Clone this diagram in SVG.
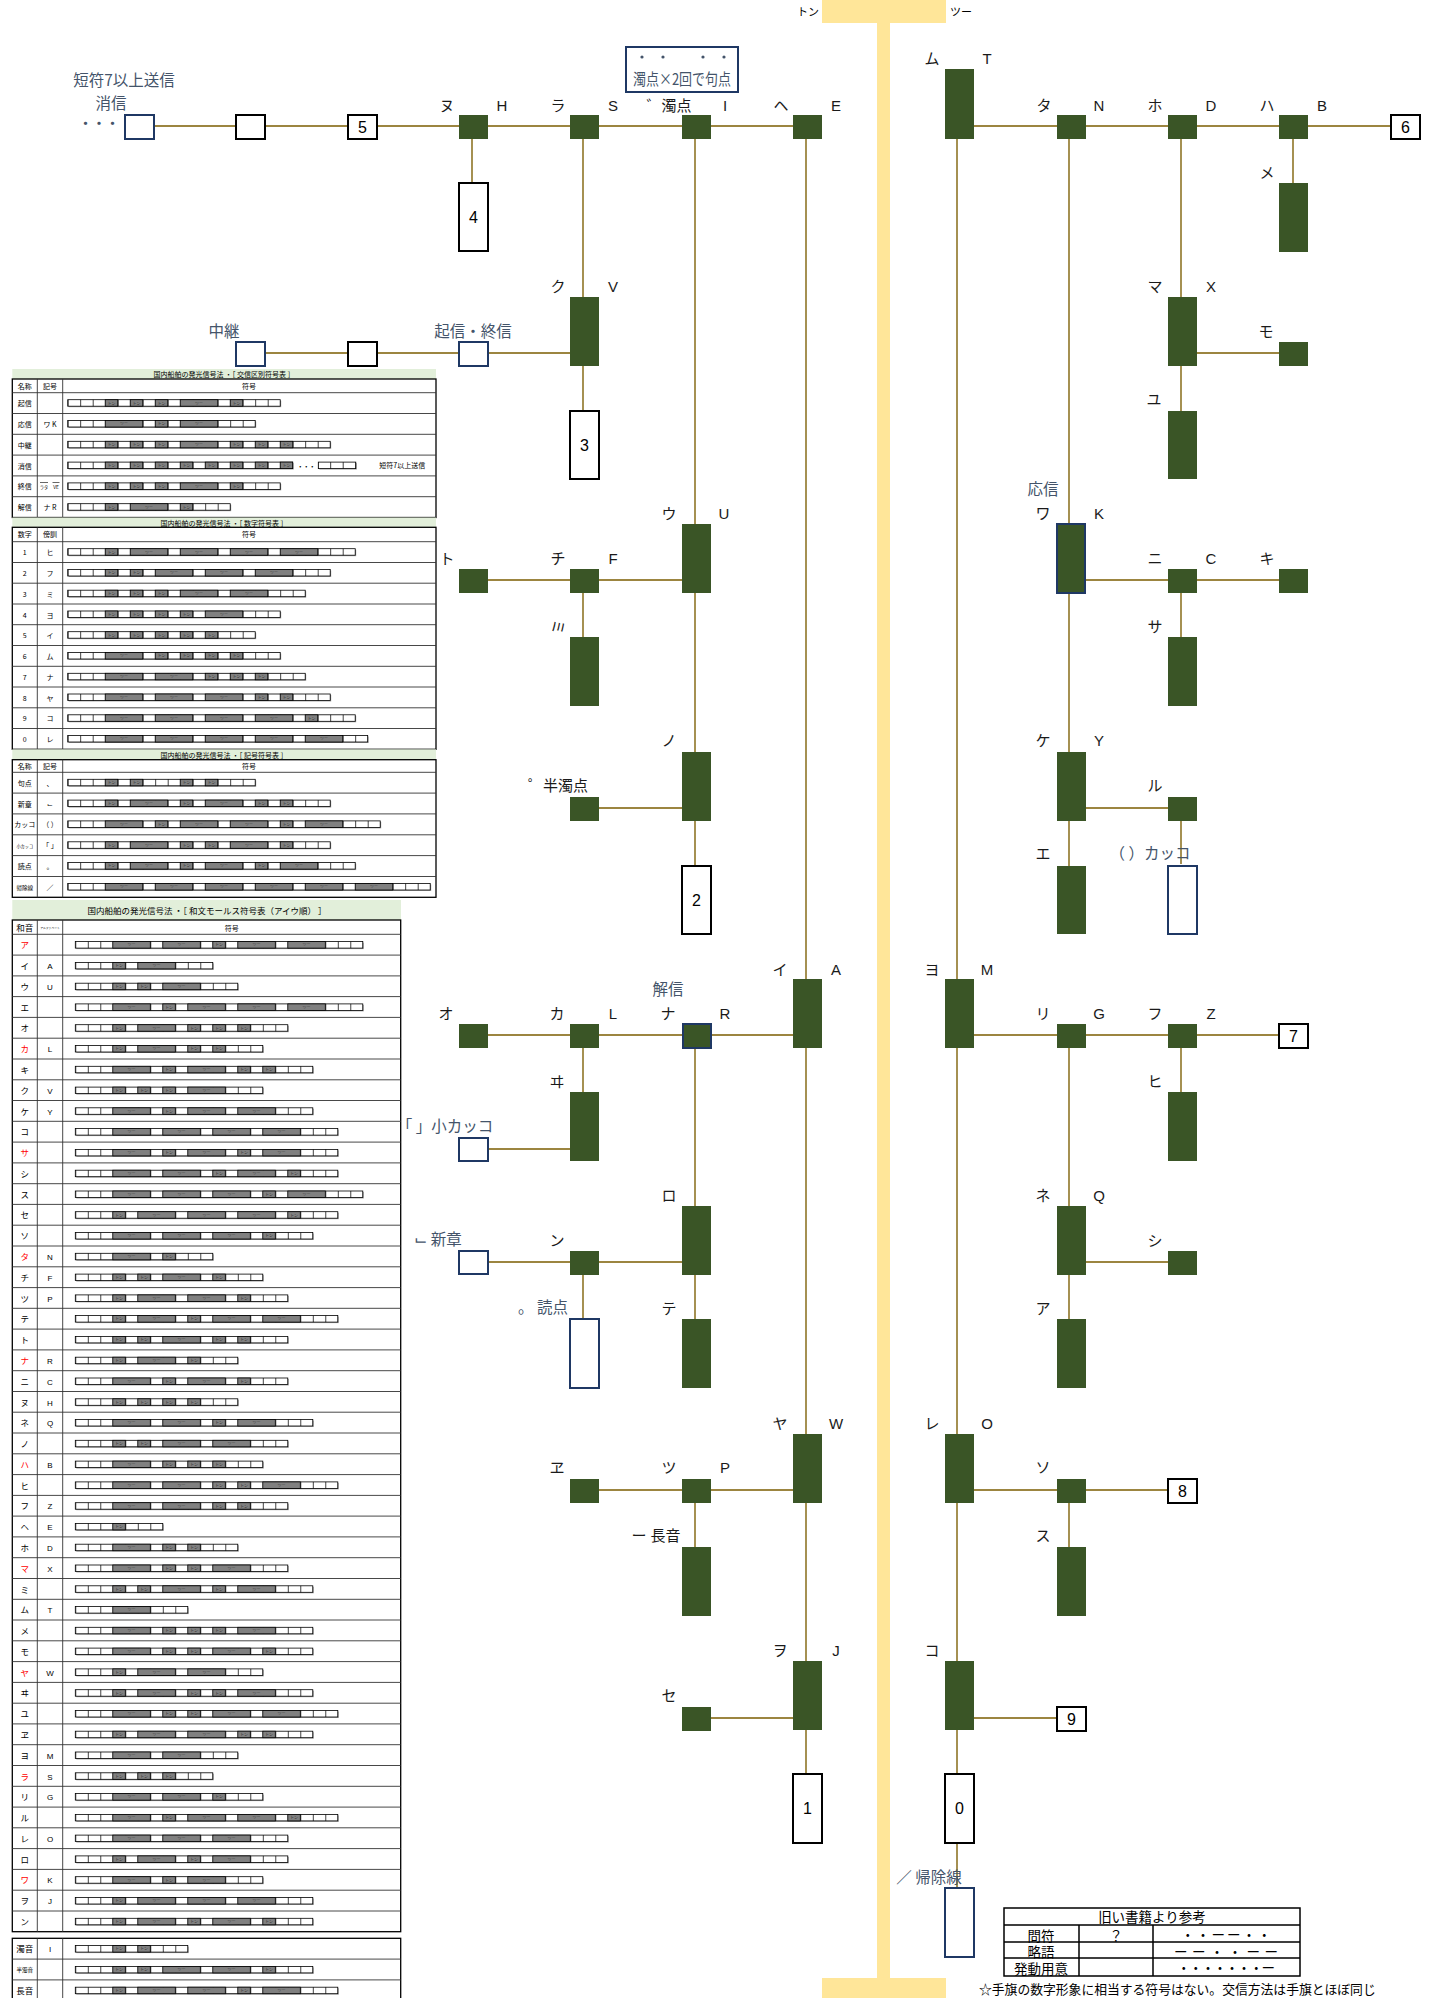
<svg xmlns="http://www.w3.org/2000/svg" width="1434" height="1998" viewBox="0 0 1434 1998">
<style>
.n{fill:#3a5526}
.bx{fill:#fff;stroke:#000;stroke-width:2}
.bb{fill:#fff;stroke:#1f3864;stroke-width:2}
.nb{fill:#3a5526;stroke:#1f3864;stroke-width:2}
.c{stroke:#9c8540;stroke-width:1.8;fill:none}
.k{font-family:"Liberation Sans","Noto Sans CJK JP",sans-serif;font-size:15px;fill:#1a1a1a;text-anchor:middle}
.b{font-family:"Noto Sans CJK JP",sans-serif;font-size:15.5px;fill:#44546a;text-anchor:middle}
.dg{font-family:"Liberation Sans",sans-serif;font-size:16px;fill:#000;text-anchor:middle}
.tt{font-family:"Noto Sans CJK JP",sans-serif;font-size:7px;fill:#000;text-anchor:middle}
.t4{font-family:"Noto Sans CJK JP",sans-serif;font-size:8.5px;fill:#000;text-anchor:middle}
.ta{font-family:"Liberation Sans",sans-serif;font-size:8px;fill:#000;text-anchor:middle}
.rd{fill:#ff0000}
.ms{font-family:"Noto Sans CJK JP",sans-serif;font-size:8px;fill:#333;text-anchor:middle}
.sh{fill:#a6a6a6}
.st{fill:url(#cl);stroke:#000;stroke-width:.8}
.fr{fill:none;stroke:#000;stroke-width:1.3}
.gl{fill:none;stroke:#333;stroke-width:.9}
.band{fill:#e2efda}
.rt{font-family:"Noto Sans CJK JP",sans-serif;font-size:13.5px;fill:#000;text-anchor:middle}
</style>
<defs>
<pattern id="cl" width="12.5" height="6.5" patternUnits="userSpaceOnUse"><rect width="12.5" height="6.5" fill="#fff"/><line x1="0.4" y1="0" x2="0.4" y2="6.5" stroke="#000" stroke-width="0.8"/></pattern>
<g id="d"><rect width="12.5" height="6.5" fill="#808080" stroke="#000" stroke-width=".8"/><text class="ms" transform="translate(6.25,4.8) scale(0.5)">トン</text></g>
<g id="D"><rect width="37.5" height="6.5" fill="#808080" stroke="#000" stroke-width=".8"/><text class="ms" transform="translate(18.75,4.8) scale(0.5)">ツー</text></g>
</defs>
<rect width="1434" height="1998" fill="#fff"/>

<g id="timeline">
<rect x="822" y="0" width="124" height="23" fill="#ffe699"/>
<rect x="877" y="0" width="13" height="1998" fill="#ffe699"/>
<rect x="822" y="1978" width="124" height="20" fill="#ffe699"/>
<text x="808" y="16" font-family="Noto Sans CJK JP,sans-serif" font-size="11" text-anchor="middle" fill="#000">トン</text>
<text x="961" y="16" font-family="Noto Sans CJK JP,sans-serif" font-size="11" text-anchor="middle" fill="#000">ツー</text>
</g>

<g id="connectors" class="c">
<path d="M153 126H793M472 139V183M583 139V297M583 366V411M264 353H570M695 139V524M695 593V752M695 821V866M488 580H682M583 593V637M599 808H682M806 139V979M806 1048V1434M806 1503V1661M806 1730V1774M488 1035H793M583 1048V1092M487 1149H570M695 1048V1206M695 1275V1319M487 1262H682M583 1275V1319M599 1490H793M695 1503V1547M711 1718H793"/>
<path d="M974 126H1391M957 139V979M957 1048V1434M957 1503V1661M957 1730V1774M957 1843V1888M1069 139V524M1069 593V752M1069 821V866M1181 139V297M1181 366V411M1197 353H1280M1293 139V183M1085 580H1280M1181 593V637M1085 808H1169M1181 821V864M974 1035H1280M1181 1048V1092M1069 1048V1206M1069 1275V1319M1085 1262H1169M974 1490H1169M1069 1503V1547M974 1718H1057"/>
</g>

<g id="note-dakuten">
<rect x="626" y="47" width="112" height="45" fill="#fff" stroke="#1f3864" stroke-width="2"/>
<circle cx="642" cy="57" r="1.6" fill="#44546a"/><circle cx="663" cy="57" r="1.6" fill="#44546a"/><circle cx="703" cy="57" r="1.6" fill="#44546a"/><circle cx="724" cy="57" r="1.6" fill="#44546a"/>
<text x="682" y="85" class="b" font-size="12" textLength="98" lengthAdjust="spacingAndGlyphs">濁点×2回で句点</text>
</g>

<g id="n-shoshin"><rect class="bb" x="125" y="115" width="29" height="24"/><text x="124" y="86" class="b">短符7以上送信</text><text x="111" y="109" class="b">消信</text><text x="98" y="129" class="b" font-size="9" letter-spacing="-2">・・・</text></g>
<g id="n-blank1"><rect class="bx" x="236" y="115" width="29" height="24"/></g>
<g id="n-5"><rect class="bx" x="348" y="115" width="29" height="24"/><text x="362.5" y="133" class="dg">5</text></g>
<g id="n-nu"><rect class="n" x="459" y="115" width="29" height="24"/><text x="447" y="110.5" class="k">ヌ</text><text x="502" y="110.5" class="k">H</text></g>
<g id="n-ra"><rect class="n" x="570" y="115" width="29" height="24"/><text x="558" y="110.5" class="k">ラ</text><text x="613" y="110.5" class="k">S</text></g>
<g id="n-dakuten"><rect class="n" x="682" y="115" width="29" height="24"/><text x="669" y="110.5" class="k">゛濁点</text><text x="725" y="110.5" class="k">I</text></g>
<g id="n-he"><rect class="n" x="793" y="115" width="29" height="24"/><text x="781" y="110.5" class="k">ヘ</text><text x="836" y="110.5" class="k">E</text></g>
<g id="n-mu"><rect class="n" x="945" y="69" width="29" height="70"/><text x="932" y="64" class="k">ム</text><text x="987" y="64" class="k">T</text></g>
<g id="n-ta"><rect class="n" x="1057" y="115" width="29" height="24"/><text x="1044" y="110.5" class="k">タ</text><text x="1099" y="110.5" class="k">N</text></g>
<g id="n-ho"><rect class="n" x="1168" y="115" width="29" height="24"/><text x="1155" y="110.5" class="k">ホ</text><text x="1211" y="110.5" class="k">D</text></g>
<g id="n-ha"><rect class="n" x="1279" y="115" width="29" height="24"/><text x="1267" y="110.5" class="k">ハ</text><text x="1322" y="110.5" class="k">B</text></g>
<g id="n-6"><rect class="bx" x="1391" y="115" width="29" height="24"/><text x="1405.5" y="133" class="dg">6</text></g>
<g id="n-me"><rect class="n" x="1279" y="183" width="29" height="69"/><text x="1267" y="177.5" class="k">メ</text></g>
<g id="n-4"><rect class="bx" x="459" y="183" width="29" height="68"/><text x="473.5" y="223" class="dg">4</text></g>
<g id="n-ku"><rect class="n" x="570" y="297" width="29" height="69"/><text x="558" y="292" class="k">ク</text><text x="613" y="292" class="k">V</text></g>
<g id="n-ma"><rect class="n" x="1168" y="297" width="29" height="69"/><text x="1155" y="292" class="k">マ</text><text x="1211" y="292" class="k">X</text></g>
<g id="n-chukei"><rect class="bb" x="236" y="342" width="29" height="24"/><text x="224" y="337" class="b">中継</text></g>
<g id="n-blank2"><rect class="bx" x="348" y="342" width="29" height="24"/></g>
<g id="n-kishin"><rect class="bb" x="459" y="342" width="29" height="24"/><text x="473" y="337" class="b">起信・終信</text></g>
<g id="n-mo"><rect class="n" x="1279" y="342" width="29" height="24"/><text x="1266" y="336.5" class="k">モ</text></g>
<g id="n-3"><rect class="bx" x="570" y="411" width="29" height="68"/><text x="584.5" y="451" class="dg">3</text></g>
<g id="n-yu"><rect class="n" x="1168" y="411" width="29" height="68"/><text x="1154" y="405" class="k">ユ</text></g>
<g id="n-u"><rect class="n" x="682" y="524" width="29" height="69"/><text x="669" y="519" class="k">ウ</text><text x="724" y="519" class="k">U</text></g>
<g id="n-wa"><rect class="nb" x="1057" y="524" width="28" height="69"/><text x="1043" y="495" class="b">応信</text><text x="1043" y="519" class="k">ワ</text><text x="1099" y="519" class="k">K</text></g>
<g id="n-to"><rect class="n" x="459" y="569" width="29" height="24"/><text x="447" y="564" class="k">ト</text></g>
<g id="n-chi"><rect class="n" x="570" y="569" width="29" height="24"/><text x="558" y="564" class="k">チ</text><text x="613" y="564" class="k">F</text></g>
<g id="n-ni"><rect class="n" x="1168" y="569" width="29" height="24"/><text x="1155" y="564" class="k">ニ</text><text x="1211" y="564" class="k">C</text></g>
<g id="n-ki"><rect class="n" x="1279" y="569" width="29" height="24"/><text x="1267" y="564" class="k">キ</text></g>
<g id="n-mi"><rect class="n" x="570" y="637" width="29" height="69"/><text x="558" y="627" class="k" dominant-baseline="central" transform="rotate(90 558 627)">ミ</text></g>
<g id="n-sa"><rect class="n" x="1168" y="637" width="29" height="69"/><text x="1155" y="632" class="k">サ</text></g>
<g id="n-no"><rect class="n" x="682" y="752" width="29" height="69"/><text x="669" y="746" class="k">ノ</text></g>
<g id="n-ke"><rect class="n" x="1057" y="752" width="29" height="69"/><text x="1043" y="746" class="k">ケ</text><text x="1099" y="746" class="k">Y</text></g>
<g id="n-handakuten"><rect class="n" x="570" y="797" width="29" height="24"/><text x="558" y="791" class="k">゜半濁点</text></g>
<g id="n-ru"><rect class="n" x="1168" y="797" width="29" height="24"/><text x="1155" y="791" class="k">ル</text></g>
<g id="n-2"><rect class="bx" x="682" y="866" width="29" height="68"/><text x="696.5" y="906" class="dg">2</text></g>
<g id="n-e"><rect class="n" x="1057" y="866" width="29" height="68"/><text x="1043" y="859" class="k">エ</text></g>
<g id="n-kakko"><rect class="bb" x="1168" y="866" width="29" height="68"/><text x="1150" y="859" class="b">（ ）カッコ</text></g>
<g id="n-i"><rect class="n" x="793" y="979" width="29" height="69"/><text x="780" y="975" class="k">イ</text><text x="836" y="975" class="k">A</text></g>
<g id="n-yo"><rect class="n" x="945" y="979" width="29" height="69"/><text x="932" y="975" class="k">ヨ</text><text x="987" y="975" class="k">M</text></g>
<g id="n-o"><rect class="n" x="459" y="1024" width="29" height="24"/><text x="446" y="1019" class="k">オ</text></g>
<g id="n-ka"><rect class="n" x="570" y="1024" width="29" height="24"/><text x="557" y="1019" class="k">カ</text><text x="613" y="1019" class="k">L</text></g>
<g id="n-na"><rect class="nb" x="683" y="1024" width="28" height="24"/><text x="668" y="995" class="b">解信</text><text x="668" y="1019" class="k">ナ</text><text x="725" y="1019" class="k">R</text></g>
<g id="n-ri"><rect class="n" x="1057" y="1024" width="29" height="24"/><text x="1043" y="1019" class="k">リ</text><text x="1099" y="1019" class="k">G</text></g>
<g id="n-fu"><rect class="n" x="1168" y="1024" width="29" height="24"/><text x="1155" y="1019" class="k">フ</text><text x="1211" y="1019" class="k">Z</text></g>
<g id="n-7"><rect class="bx" x="1279" y="1024" width="29" height="24"/><text x="1293.5" y="1042" class="dg">7</text></g>
<g id="n-wi"><rect class="n" x="570" y="1092" width="29" height="69"/><text x="557" y="1087" class="k">ヰ</text></g>
<g id="n-hi"><rect class="n" x="1168" y="1092" width="29" height="69"/><text x="1155" y="1087" class="k">ヒ</text></g>
<g id="n-kokakko"><rect class="bb" x="459" y="1138" width="29" height="23"/><text x="445" y="1132" class="b">「 」小カッコ</text></g>
<g id="n-ro"><rect class="n" x="682" y="1206" width="29" height="69"/><text x="669" y="1201" class="k">ロ</text></g>
<g id="n-ne"><rect class="n" x="1057" y="1206" width="29" height="69"/><text x="1043" y="1201" class="k">ネ</text><text x="1099" y="1201" class="k">Q</text></g>
<g id="n-shinsho"><rect class="bb" x="459" y="1251" width="29" height="23"/><text x="438" y="1245" class="b">⌙ 新章</text></g>
<g id="n-n"><rect class="n" x="570" y="1251" width="29" height="24"/><text x="557" y="1246" class="k">ン</text></g>
<g id="n-shi"><rect class="n" x="1168" y="1251" width="29" height="24"/><text x="1155" y="1246" class="k">シ</text></g>
<g id="n-toten"><rect class="bb" x="570" y="1319" width="29" height="69"/><text x="543" y="1313" class="b">。 読点</text></g>
<g id="n-te"><rect class="n" x="682" y="1319" width="29" height="69"/><text x="669" y="1314" class="k">テ</text></g>
<g id="n-a"><rect class="n" x="1057" y="1319" width="29" height="69"/><text x="1043" y="1314" class="k">ア</text></g>
<g id="n-ya"><rect class="n" x="793" y="1434" width="29" height="69"/><text x="780" y="1429" class="k">ヤ</text><text x="836" y="1429" class="k">W</text></g>
<g id="n-re"><rect class="n" x="945" y="1434" width="29" height="69"/><text x="932" y="1429" class="k">レ</text><text x="987" y="1429" class="k">O</text></g>
<g id="n-we"><rect class="n" x="570" y="1479" width="29" height="24"/><text x="557" y="1473" class="k">ヱ</text></g>
<g id="n-tsu"><rect class="n" x="682" y="1479" width="29" height="24"/><text x="669" y="1473" class="k">ツ</text><text x="725" y="1473" class="k">P</text></g>
<g id="n-so"><rect class="n" x="1057" y="1479" width="29" height="24"/><text x="1043" y="1473" class="k">ソ</text></g>
<g id="n-8"><rect class="bx" x="1168" y="1479" width="29" height="24"/><text x="1182.5" y="1497" class="dg">8</text></g>
<g id="n-choon"><rect class="n" x="682" y="1547" width="29" height="69"/><text x="656" y="1541" class="k">ー 長音</text></g>
<g id="n-su"><rect class="n" x="1057" y="1547" width="29" height="69"/><text x="1043" y="1541" class="k">ス</text></g>
<g id="n-wo"><rect class="n" x="793" y="1661" width="29" height="69"/><text x="780" y="1656" class="k">ヲ</text><text x="836" y="1656" class="k">J</text></g>
<g id="n-ko"><rect class="n" x="945" y="1661" width="29" height="69"/><text x="932" y="1656" class="k">コ</text></g>
<g id="n-se"><rect class="n" x="682" y="1707" width="29" height="24"/><text x="669" y="1701" class="k">セ</text></g>
<g id="n-9"><rect class="bx" x="1057" y="1707" width="29" height="24"/><text x="1071.5" y="1725" class="dg">9</text></g>
<g id="n-1"><rect class="bx" x="793" y="1774" width="29" height="69"/><text x="807.5" y="1814" class="dg">1</text></g>
<g id="n-0"><rect class="bx" x="945" y="1774" width="29" height="69"/><text x="959.5" y="1814" class="dg">0</text></g>
<g id="n-kijosen"><rect class="bb" x="945" y="1888" width="29" height="69"/><text x="929" y="1883" class="b">／ 帰除線</text></g>

<g id="table-kohshin">
<rect class="band" x="12.3" y="369" width="423.7" height="10"/>
<text x="224" y="377" class="tt" font-size="7.5">国内船舶の発光信号法 ・［ 交信区別符号表 ］</text>
<rect class="fr" x="12.3" y="379" width="423.7" height="138.5"/>
<path class="gl" d="M12.3 392.7H436M12.3 413.5H436M12.3 434.3H436M12.3 455.1H436M12.3 475.9H436M12.3 496.7H436M37.3 379V517.5M62.7 379V517.5"/>
<text x="24.8" y="388.5" class="tt">名称</text><text x="50" y="388.5" class="tt">記号</text><text x="249" y="388.5" class="tt">符号</text>
<text x="24.8" y="406.2" class="tt">起信</text>
<text x="24.8" y="427" class="tt">応信</text><text x="50" y="427" class="tt">ワ K</text>
<text x="24.8" y="447.8" class="tt">中継</text>
<text x="24.8" y="468.6" class="tt">消信</text>
<text x="24.8" y="489.4" class="tt">終信</text><text class="tt" transform="translate(44,489.4) scale(0.6)">ラタ</text><text class="tt" transform="translate(56,489.4) scale(0.7)">VE</text>
<path d="M40 482.5H48M52.5 482.5H59.5" stroke="#000" stroke-width=".6"/>
<text x="24.8" y="510.2" class="tt">解信</text><text x="50" y="510.2" class="tt">ナ R</text>
<g transform="translate(67.7,399.7)"><rect class="sh" x="1" y="1" width="212.5" height="6.5"/><rect class="st" width="212.5" height="6.5"/><use href="#d" x="37.5"/><use href="#d" x="62.5"/><use href="#d" x="87.5"/><use href="#D" x="112.5"/><use href="#d" x="162.5"/></g>
<g transform="translate(67.7,420.5)"><rect class="sh" x="1" y="1" width="187.5" height="6.5"/><rect class="st" width="187.5" height="6.5"/><use href="#D" x="37.5"/><use href="#d" x="87.5"/><use href="#D" x="112.5"/></g>
<g transform="translate(67.7,441.3)"><rect class="sh" x="1" y="1" width="262.5" height="6.5"/><rect class="st" width="262.5" height="6.5"/><use href="#d" x="37.5"/><use href="#d" x="62.5"/><use href="#d" x="87.5"/><use href="#D" x="112.5"/><use href="#d" x="162.5"/><use href="#d" x="187.5"/><use href="#d" x="212.5"/></g>
<g transform="translate(67.7,462.1)"><rect class="sh" x="1" y="1" width="225" height="6.5"/><rect class="st" width="225" height="6.5"/><use href="#d" x="37.5"/><use href="#d" x="62.5"/><use href="#d" x="87.5"/><use href="#d" x="112.5"/><use href="#d" x="137.5"/><use href="#d" x="162.5"/><use href="#d" x="187.5"/><use href="#d" x="212.5"/>
<text x="238" y="6.5" class="tt" font-size="6" letter-spacing="-1">・・・</text>
<rect class="sh" x="251.6" y="1" width="37.5" height="6.5"/><rect class="st" x="250.6" width="37.5" height="6.5"/>
<text x="334.5" y="6" class="tt" font-size="6.5">短符7以上送信</text></g>
<g transform="translate(67.7,482.9)"><rect class="sh" x="1" y="1" width="212.5" height="6.5"/><rect class="st" width="212.5" height="6.5"/><use href="#d" x="37.5"/><use href="#d" x="62.5"/><use href="#d" x="87.5"/><use href="#D" x="112.5"/><use href="#d" x="162.5"/></g>
<g transform="translate(67.7,503.7)"><rect class="sh" x="1" y="1" width="162.5" height="6.5"/><rect class="st" width="162.5" height="6.5"/><use href="#d" x="37.5"/><use href="#D" x="62.5"/><use href="#d" x="112.5"/></g>
</g>

<g id="table-suji">
<rect class="band" x="12.3" y="517.5" width="423.7" height="9.8"/>
<text x="224" y="525.5" class="tt" font-size="7.5">国内船舶の発光信号法 ・［ 数字符号表 ］</text>
<rect class="fr" x="12.3" y="527.3" width="423.7" height="222"/>
<path class="gl" d="M12.3 541.7H436M12.3 562.5H436M12.3 583.2H436M12.3 604H436M12.3 624.7H436M12.3 645.5H436M12.3 666.3H436M12.3 687H436M12.3 707.8H436M12.3 728.5H436M37.3 527.3V749.3M62.7 527.3V749.3"/>
<text x="24.8" y="537" class="tt">数字</text><text x="50" y="537" class="tt">傍訓</text><text x="249" y="537" class="tt">符号</text>
<text x="24.8" y="555.2" class="tt">1</text><text x="50" y="555.2" class="tt">ヒ</text>
<text x="24.8" y="576" class="tt">2</text><text x="50" y="576" class="tt">フ</text>
<text x="24.8" y="596.7" class="tt">3</text><text x="50" y="596.7" class="tt">ミ</text>
<text x="24.8" y="617.5" class="tt">4</text><text x="50" y="617.5" class="tt">ヨ</text>
<text x="24.8" y="638.2" class="tt">5</text><text x="50" y="638.2" class="tt">イ</text>
<text x="24.8" y="659" class="tt">6</text><text x="50" y="659" class="tt">ム</text>
<text x="24.8" y="679.8" class="tt">7</text><text x="50" y="679.8" class="tt">ナ</text>
<text x="24.8" y="700.5" class="tt">8</text><text x="50" y="700.5" class="tt">ヤ</text>
<text x="24.8" y="721.3" class="tt">9</text><text x="50" y="721.3" class="tt">コ</text>
<text x="24.8" y="742" class="tt">0</text><text x="50" y="742" class="tt">レ</text>
<g transform="translate(67.7,548.7)"><rect class="sh" x="1" y="1" width="287.5" height="6.5"/><rect class="st" width="287.5" height="6.5"/><use href="#d" x="37.5"/><use href="#D" x="62.5"/><use href="#D" x="112.5"/><use href="#D" x="162.5"/><use href="#D" x="212.5"/></g>
<g transform="translate(67.7,569.5)"><rect class="sh" x="1" y="1" width="262.5" height="6.5"/><rect class="st" width="262.5" height="6.5"/><use href="#d" x="37.5"/><use href="#d" x="62.5"/><use href="#D" x="87.5"/><use href="#D" x="137.5"/><use href="#D" x="187.5"/></g>
<g transform="translate(67.7,590.2)"><rect class="sh" x="1" y="1" width="237.5" height="6.5"/><rect class="st" width="237.5" height="6.5"/><use href="#d" x="37.5"/><use href="#d" x="62.5"/><use href="#d" x="87.5"/><use href="#D" x="112.5"/><use href="#D" x="162.5"/></g>
<g transform="translate(67.7,611)"><rect class="sh" x="1" y="1" width="212.5" height="6.5"/><rect class="st" width="212.5" height="6.5"/><use href="#d" x="37.5"/><use href="#d" x="62.5"/><use href="#d" x="87.5"/><use href="#d" x="112.5"/><use href="#D" x="137.5"/></g>
<g transform="translate(67.7,631.7)"><rect class="sh" x="1" y="1" width="187.5" height="6.5"/><rect class="st" width="187.5" height="6.5"/><use href="#d" x="37.5"/><use href="#d" x="62.5"/><use href="#d" x="87.5"/><use href="#d" x="112.5"/><use href="#d" x="137.5"/></g>
<g transform="translate(67.7,652.5)"><rect class="sh" x="1" y="1" width="212.5" height="6.5"/><rect class="st" width="212.5" height="6.5"/><use href="#D" x="37.5"/><use href="#d" x="87.5"/><use href="#d" x="112.5"/><use href="#d" x="137.5"/><use href="#d" x="162.5"/></g>
<g transform="translate(67.7,673.3)"><rect class="sh" x="1" y="1" width="237.5" height="6.5"/><rect class="st" width="237.5" height="6.5"/><use href="#D" x="37.5"/><use href="#D" x="87.5"/><use href="#d" x="137.5"/><use href="#d" x="162.5"/><use href="#d" x="187.5"/></g>
<g transform="translate(67.7,694)"><rect class="sh" x="1" y="1" width="262.5" height="6.5"/><rect class="st" width="262.5" height="6.5"/><use href="#D" x="37.5"/><use href="#D" x="87.5"/><use href="#D" x="137.5"/><use href="#d" x="187.5"/><use href="#d" x="212.5"/></g>
<g transform="translate(67.7,714.8)"><rect class="sh" x="1" y="1" width="287.5" height="6.5"/><rect class="st" width="287.5" height="6.5"/><use href="#D" x="37.5"/><use href="#D" x="87.5"/><use href="#D" x="137.5"/><use href="#D" x="187.5"/><use href="#d" x="237.5"/></g>
<g transform="translate(67.7,735.5)"><rect class="sh" x="1" y="1" width="300" height="6.5"/><rect class="st" width="300" height="6.5"/><use href="#D" x="37.5"/><use href="#D" x="87.5"/><use href="#D" x="137.5"/><use href="#D" x="187.5"/><use href="#D" x="237.5"/></g>
</g>

<g id="table-kigo">
<rect class="band" x="12.3" y="749.3" width="423.7" height="10.4"/>
<text x="224" y="757.5" class="tt" font-size="7.5">国内船舶の発光信号法 ・［ 記号符号表 ］</text>
<rect class="fr" x="12.3" y="759.7" width="423.7" height="137.6"/>
<path class="gl" d="M12.3 772.3H436M12.3 793.1H436M12.3 813.9H436M12.3 834.8H436M12.3 855.6H436M12.3 876.5H436M37.3 759.7V897.3M62.7 759.7V897.3"/>
<text x="24.8" y="769" class="tt">名称</text><text x="50" y="769" class="tt">記号</text><text x="249" y="769" class="tt">符号</text>
<text x="24.8" y="785.8" class="tt">句点</text><text x="50" y="785.8" class="tt">、</text>
<text x="24.8" y="806.6" class="tt">新章</text><text x="50" y="806.6" class="tt" fill="#44546a">⌙</text>
<text x="24.8" y="827.4" class="tt" font-size="6">カッコ</text><text x="50" y="827.4" class="tt">（ ）</text>
<text class="tt" transform="translate(24.8,848.3) scale(0.6)">小カッコ</text><text x="50" y="848.3" class="tt">「 」</text>
<text x="24.8" y="869.1" class="tt">読点</text><text x="50" y="869.1" class="tt">。</text>
<text class="tt" transform="translate(24.8,890) scale(0.8)">帰除線</text><text x="50" y="890" class="tt">／</text>
<g transform="translate(67.7,779.3)"><rect class="sh" x="1" y="1" width="187.5" height="6.5"/><rect class="st" width="187.5" height="6.5"/><use href="#d" x="37.5"/><use href="#d" x="62.5"/><use href="#d" x="112.5"/><use href="#d" x="137.5"/></g>
<g transform="translate(67.7,800.1)"><rect class="sh" x="1" y="1" width="262.5" height="6.5"/><rect class="st" width="262.5" height="6.5"/><use href="#d" x="37.5"/><use href="#D" x="62.5"/><use href="#d" x="112.5"/><use href="#D" x="137.5"/><use href="#d" x="187.5"/><use href="#d" x="212.5"/></g>
<g transform="translate(67.7,820.9)"><rect class="sh" x="1" y="1" width="312.5" height="6.5"/><rect class="st" width="312.5" height="6.5"/><use href="#D" x="37.5"/><use href="#d" x="87.5"/><use href="#D" x="112.5"/><use href="#D" x="162.5"/><use href="#d" x="212.5"/><use href="#D" x="237.5"/></g>
<g transform="translate(67.7,841.8)"><rect class="sh" x="1" y="1" width="262.5" height="6.5"/><rect class="st" width="262.5" height="6.5"/><use href="#d" x="37.5"/><use href="#D" x="62.5"/><use href="#d" x="112.5"/><use href="#d" x="137.5"/><use href="#D" x="162.5"/><use href="#d" x="212.5"/></g>
<g transform="translate(67.7,862.6)"><rect class="sh" x="1" y="1" width="287.5" height="6.5"/><rect class="st" width="287.5" height="6.5"/><use href="#d" x="37.5"/><use href="#D" x="62.5"/><use href="#d" x="112.5"/><use href="#D" x="137.5"/><use href="#d" x="187.5"/><use href="#D" x="212.5"/></g>
<g transform="translate(67.7,883.5)"><rect class="sh" x="1" y="1" width="362.5" height="6.5"/><rect class="st" width="362.5" height="6.5"/><use href="#D" x="37.5"/><use href="#D" x="87.5"/><use href="#D" x="137.5"/><use href="#D" x="187.5"/><use href="#D" x="237.5"/><use href="#D" x="287.5"/></g>
</g>

<g id="table-wabun">
<rect class="band" x="12.3" y="900" width="388.7" height="20"/>
<text x="207" y="914" class="t4" font-size="9.5">国内船舶の発光信号法 ・［ 和文モールス符号表（アイウ順） ］</text>
<rect class="fr" x="12.3" y="920" width="388.4" height="1011.7"/>
<path class="gl" d="M12.3 934.3H400.7M12.3 955.1H400.7M12.3 975.9H400.7M12.3 996.6H400.7M12.3 1017.4H400.7M12.3 1038.2H400.7M12.3 1059H400.7M12.3 1079.8H400.7M12.3 1100.5H400.7M12.3 1121.3H400.7M12.3 1142.1H400.7M12.3 1162.9H400.7M12.3 1183.7H400.7M12.3 1204.4H400.7M12.3 1225.2H400.7M12.3 1246H400.7M12.3 1266.8H400.7M12.3 1287.6H400.7M12.3 1308.3H400.7M12.3 1329.1H400.7M12.3 1349.9H400.7M12.3 1370.7H400.7M12.3 1391.5H400.7M12.3 1412.2H400.7M12.3 1433H400.7M12.3 1453.8H400.7M12.3 1474.6H400.7M12.3 1495.4H400.7M12.3 1516.1H400.7M12.3 1536.9H400.7M12.3 1557.7H400.7M12.3 1578.5H400.7M12.3 1599.3H400.7M12.3 1620H400.7M12.3 1640.8H400.7M12.3 1661.6H400.7M12.3 1682.4H400.7M12.3 1703.2H400.7M12.3 1723.9H400.7M12.3 1744.7H400.7M12.3 1765.5H400.7M12.3 1786.3H400.7M12.3 1807.1H400.7M12.3 1827.8H400.7M12.3 1848.6H400.7M12.3 1869.4H400.7M12.3 1890.2H400.7M12.3 1911H400.7M37.3 920V1931.7M62.7 920V1931.7"/>
<text x="24.8" y="930.8" class="t4" font-size="9">和音</text><text class="tt" transform="translate(50,929) scale(0.4)">アルファベット</text><text x="231.7" y="930.5" class="tt">符号</text>
<text x="24.8" y="948.3" class="t4 rd">ア</text>
<text x="24.8" y="969.1" class="t4">イ</text><text x="50" y="969.1" class="ta">A</text>
<text x="24.8" y="989.9" class="t4">ウ</text><text x="50" y="989.9" class="ta">U</text>
<text x="24.8" y="1010.6" class="t4">エ</text>
<text x="24.8" y="1031.4" class="t4">オ</text>
<text x="24.8" y="1052.2" class="t4 rd">カ</text><text x="50" y="1052.2" class="ta">L</text>
<text x="24.8" y="1073" class="t4">キ</text>
<text x="24.8" y="1093.8" class="t4">ク</text><text x="50" y="1093.8" class="ta">V</text>
<text x="24.8" y="1114.5" class="t4">ケ</text><text x="50" y="1114.5" class="ta">Y</text>
<text x="24.8" y="1135.3" class="t4">コ</text>
<text x="24.8" y="1156.1" class="t4 rd">サ</text>
<text x="24.8" y="1176.9" class="t4">シ</text>
<text x="24.8" y="1197.7" class="t4">ス</text>
<text x="24.8" y="1218.4" class="t4">セ</text>
<text x="24.8" y="1239.2" class="t4">ソ</text>
<text x="24.8" y="1260" class="t4 rd">タ</text><text x="50" y="1260" class="ta">N</text>
<text x="24.8" y="1280.8" class="t4">チ</text><text x="50" y="1280.8" class="ta">F</text>
<text x="24.8" y="1301.6" class="t4">ツ</text><text x="50" y="1301.6" class="ta">P</text>
<text x="24.8" y="1322.3" class="t4">テ</text>
<text x="24.8" y="1343.1" class="t4">ト</text>
<text x="24.8" y="1363.9" class="t4 rd">ナ</text><text x="50" y="1363.9" class="ta">R</text>
<text x="24.8" y="1384.7" class="t4">ニ</text><text x="50" y="1384.7" class="ta">C</text>
<text x="24.8" y="1405.5" class="t4">ヌ</text><text x="50" y="1405.5" class="ta">H</text>
<text x="24.8" y="1426.2" class="t4">ネ</text><text x="50" y="1426.2" class="ta">Q</text>
<text x="24.8" y="1447" class="t4">ノ</text>
<text x="24.8" y="1467.8" class="t4 rd">ハ</text><text x="50" y="1467.8" class="ta">B</text>
<text x="24.8" y="1488.6" class="t4">ヒ</text>
<text x="24.8" y="1509.4" class="t4">フ</text><text x="50" y="1509.4" class="ta">Z</text>
<text x="24.8" y="1530.1" class="t4">ヘ</text><text x="50" y="1530.1" class="ta">E</text>
<text x="24.8" y="1550.9" class="t4">ホ</text><text x="50" y="1550.9" class="ta">D</text>
<text x="24.8" y="1571.7" class="t4 rd">マ</text><text x="50" y="1571.7" class="ta">X</text>
<text x="24.8" y="1592.5" class="t4">ミ</text>
<text x="24.8" y="1613.3" class="t4">ム</text><text x="50" y="1613.3" class="ta">T</text>
<text x="24.8" y="1634" class="t4">メ</text>
<text x="24.8" y="1654.8" class="t4">モ</text>
<text x="24.8" y="1675.6" class="t4 rd">ヤ</text><text x="50" y="1675.6" class="ta">W</text>
<text x="24.8" y="1696.4" class="t4">ヰ</text>
<text x="24.8" y="1717.2" class="t4">ユ</text>
<text x="24.8" y="1737.9" class="t4">ヱ</text>
<text x="24.8" y="1758.7" class="t4">ヨ</text><text x="50" y="1758.7" class="ta">M</text>
<text x="24.8" y="1779.5" class="t4 rd">ラ</text><text x="50" y="1779.5" class="ta">S</text>
<text x="24.8" y="1800.3" class="t4">リ</text><text x="50" y="1800.3" class="ta">G</text>
<text x="24.8" y="1821.1" class="t4">ル</text>
<text x="24.8" y="1841.8" class="t4">レ</text><text x="50" y="1841.8" class="ta">O</text>
<text x="24.8" y="1862.6" class="t4">ロ</text>
<text x="24.8" y="1883.4" class="t4 rd">ワ</text><text x="50" y="1883.4" class="ta">K</text>
<text x="24.8" y="1904.2" class="t4">ヲ</text><text x="50" y="1904.2" class="ta">J</text>
<text x="24.8" y="1925" class="t4">ン</text>
<g transform="translate(75.3,941.6)"><rect class="sh" x="1" y="1" width="287.5" height="6.5"/><rect class="st" width="287.5" height="6.5"/><use href="#D" x="37.5"/><use href="#D" x="87.5"/><use href="#d" x="137.5"/><use href="#D" x="162.5"/><use href="#D" x="212.5"/></g>
<g transform="translate(75.3,962.4)"><rect class="sh" x="1" y="1" width="137.5" height="6.5"/><rect class="st" width="137.5" height="6.5"/><use href="#d" x="37.5"/><use href="#D" x="62.5"/></g>
<g transform="translate(75.3,983.2)"><rect class="sh" x="1" y="1" width="162.5" height="6.5"/><rect class="st" width="162.5" height="6.5"/><use href="#d" x="37.5"/><use href="#d" x="62.5"/><use href="#D" x="87.5"/></g>
<g transform="translate(75.3,1003.9)"><rect class="sh" x="1" y="1" width="287.5" height="6.5"/><rect class="st" width="287.5" height="6.5"/><use href="#D" x="37.5"/><use href="#d" x="87.5"/><use href="#D" x="112.5"/><use href="#D" x="162.5"/><use href="#D" x="212.5"/></g>
<g transform="translate(75.3,1024.7)"><rect class="sh" x="1" y="1" width="212.5" height="6.5"/><rect class="st" width="212.5" height="6.5"/><use href="#d" x="37.5"/><use href="#D" x="62.5"/><use href="#d" x="112.5"/><use href="#d" x="137.5"/><use href="#d" x="162.5"/></g>
<g transform="translate(75.3,1045.5)"><rect class="sh" x="1" y="1" width="187.5" height="6.5"/><rect class="st" width="187.5" height="6.5"/><use href="#d" x="37.5"/><use href="#D" x="62.5"/><use href="#d" x="112.5"/><use href="#d" x="137.5"/></g>
<g transform="translate(75.3,1066.3)"><rect class="sh" x="1" y="1" width="237.5" height="6.5"/><rect class="st" width="237.5" height="6.5"/><use href="#D" x="37.5"/><use href="#d" x="87.5"/><use href="#D" x="112.5"/><use href="#d" x="162.5"/><use href="#d" x="187.5"/></g>
<g transform="translate(75.3,1087.1)"><rect class="sh" x="1" y="1" width="187.5" height="6.5"/><rect class="st" width="187.5" height="6.5"/><use href="#d" x="37.5"/><use href="#d" x="62.5"/><use href="#d" x="87.5"/><use href="#D" x="112.5"/></g>
<g transform="translate(75.3,1107.8)"><rect class="sh" x="1" y="1" width="237.5" height="6.5"/><rect class="st" width="237.5" height="6.5"/><use href="#D" x="37.5"/><use href="#d" x="87.5"/><use href="#D" x="112.5"/><use href="#D" x="162.5"/></g>
<g transform="translate(75.3,1128.6)"><rect class="sh" x="1" y="1" width="262.5" height="6.5"/><rect class="st" width="262.5" height="6.5"/><use href="#D" x="37.5"/><use href="#D" x="87.5"/><use href="#D" x="137.5"/><use href="#D" x="187.5"/></g>
<g transform="translate(75.3,1149.4)"><rect class="sh" x="1" y="1" width="262.5" height="6.5"/><rect class="st" width="262.5" height="6.5"/><use href="#D" x="37.5"/><use href="#d" x="87.5"/><use href="#D" x="112.5"/><use href="#d" x="162.5"/><use href="#D" x="187.5"/></g>
<g transform="translate(75.3,1170.2)"><rect class="sh" x="1" y="1" width="262.5" height="6.5"/><rect class="st" width="262.5" height="6.5"/><use href="#D" x="37.5"/><use href="#D" x="87.5"/><use href="#d" x="137.5"/><use href="#D" x="162.5"/><use href="#d" x="212.5"/></g>
<g transform="translate(75.3,1191)"><rect class="sh" x="1" y="1" width="287.5" height="6.5"/><rect class="st" width="287.5" height="6.5"/><use href="#D" x="37.5"/><use href="#D" x="87.5"/><use href="#D" x="137.5"/><use href="#d" x="187.5"/><use href="#D" x="212.5"/></g>
<g transform="translate(75.3,1211.7)"><rect class="sh" x="1" y="1" width="262.5" height="6.5"/><rect class="st" width="262.5" height="6.5"/><use href="#d" x="37.5"/><use href="#D" x="62.5"/><use href="#D" x="112.5"/><use href="#D" x="162.5"/><use href="#d" x="212.5"/></g>
<g transform="translate(75.3,1232.5)"><rect class="sh" x="1" y="1" width="237.5" height="6.5"/><rect class="st" width="237.5" height="6.5"/><use href="#D" x="37.5"/><use href="#D" x="87.5"/><use href="#D" x="137.5"/><use href="#d" x="187.5"/></g>
<g transform="translate(75.3,1253.3)"><rect class="sh" x="1" y="1" width="137.5" height="6.5"/><rect class="st" width="137.5" height="6.5"/><use href="#D" x="37.5"/><use href="#d" x="87.5"/></g>
<g transform="translate(75.3,1274.1)"><rect class="sh" x="1" y="1" width="187.5" height="6.5"/><rect class="st" width="187.5" height="6.5"/><use href="#d" x="37.5"/><use href="#d" x="62.5"/><use href="#D" x="87.5"/><use href="#d" x="137.5"/></g>
<g transform="translate(75.3,1294.9)"><rect class="sh" x="1" y="1" width="212.5" height="6.5"/><rect class="st" width="212.5" height="6.5"/><use href="#d" x="37.5"/><use href="#D" x="62.5"/><use href="#D" x="112.5"/><use href="#d" x="162.5"/></g>
<g transform="translate(75.3,1315.6)"><rect class="sh" x="1" y="1" width="262.5" height="6.5"/><rect class="st" width="262.5" height="6.5"/><use href="#d" x="37.5"/><use href="#D" x="62.5"/><use href="#d" x="112.5"/><use href="#D" x="137.5"/><use href="#D" x="187.5"/></g>
<g transform="translate(75.3,1336.4)"><rect class="sh" x="1" y="1" width="212.5" height="6.5"/><rect class="st" width="212.5" height="6.5"/><use href="#d" x="37.5"/><use href="#d" x="62.5"/><use href="#D" x="87.5"/><use href="#d" x="137.5"/><use href="#d" x="162.5"/></g>
<g transform="translate(75.3,1357.2)"><rect class="sh" x="1" y="1" width="162.5" height="6.5"/><rect class="st" width="162.5" height="6.5"/><use href="#d" x="37.5"/><use href="#D" x="62.5"/><use href="#d" x="112.5"/></g>
<g transform="translate(75.3,1378)"><rect class="sh" x="1" y="1" width="212.5" height="6.5"/><rect class="st" width="212.5" height="6.5"/><use href="#D" x="37.5"/><use href="#d" x="87.5"/><use href="#D" x="112.5"/><use href="#d" x="162.5"/></g>
<g transform="translate(75.3,1398.8)"><rect class="sh" x="1" y="1" width="162.5" height="6.5"/><rect class="st" width="162.5" height="6.5"/><use href="#d" x="37.5"/><use href="#d" x="62.5"/><use href="#d" x="87.5"/><use href="#d" x="112.5"/></g>
<g transform="translate(75.3,1419.5)"><rect class="sh" x="1" y="1" width="237.5" height="6.5"/><rect class="st" width="237.5" height="6.5"/><use href="#D" x="37.5"/><use href="#D" x="87.5"/><use href="#d" x="137.5"/><use href="#D" x="162.5"/></g>
<g transform="translate(75.3,1440.3)"><rect class="sh" x="1" y="1" width="212.5" height="6.5"/><rect class="st" width="212.5" height="6.5"/><use href="#d" x="37.5"/><use href="#d" x="62.5"/><use href="#D" x="87.5"/><use href="#D" x="137.5"/></g>
<g transform="translate(75.3,1461.1)"><rect class="sh" x="1" y="1" width="187.5" height="6.5"/><rect class="st" width="187.5" height="6.5"/><use href="#D" x="37.5"/><use href="#d" x="87.5"/><use href="#d" x="112.5"/><use href="#d" x="137.5"/></g>
<g transform="translate(75.3,1481.9)"><rect class="sh" x="1" y="1" width="262.5" height="6.5"/><rect class="st" width="262.5" height="6.5"/><use href="#D" x="37.5"/><use href="#D" x="87.5"/><use href="#d" x="137.5"/><use href="#d" x="162.5"/><use href="#D" x="187.5"/></g>
<g transform="translate(75.3,1502.7)"><rect class="sh" x="1" y="1" width="212.5" height="6.5"/><rect class="st" width="212.5" height="6.5"/><use href="#D" x="37.5"/><use href="#D" x="87.5"/><use href="#d" x="137.5"/><use href="#d" x="162.5"/></g>
<g transform="translate(75.3,1523.4)"><rect class="sh" x="1" y="1" width="87.5" height="6.5"/><rect class="st" width="87.5" height="6.5"/><use href="#d" x="37.5"/></g>
<g transform="translate(75.3,1544.2)"><rect class="sh" x="1" y="1" width="162.5" height="6.5"/><rect class="st" width="162.5" height="6.5"/><use href="#D" x="37.5"/><use href="#d" x="87.5"/><use href="#d" x="112.5"/></g>
<g transform="translate(75.3,1565)"><rect class="sh" x="1" y="1" width="212.5" height="6.5"/><rect class="st" width="212.5" height="6.5"/><use href="#D" x="37.5"/><use href="#d" x="87.5"/><use href="#d" x="112.5"/><use href="#D" x="137.5"/></g>
<g transform="translate(75.3,1585.8)"><rect class="sh" x="1" y="1" width="237.5" height="6.5"/><rect class="st" width="237.5" height="6.5"/><use href="#d" x="37.5"/><use href="#d" x="62.5"/><use href="#D" x="87.5"/><use href="#d" x="137.5"/><use href="#D" x="162.5"/></g>
<g transform="translate(75.3,1606.6)"><rect class="sh" x="1" y="1" width="112.5" height="6.5"/><rect class="st" width="112.5" height="6.5"/><use href="#D" x="37.5"/></g>
<g transform="translate(75.3,1627.3)"><rect class="sh" x="1" y="1" width="237.5" height="6.5"/><rect class="st" width="237.5" height="6.5"/><use href="#D" x="37.5"/><use href="#d" x="87.5"/><use href="#d" x="112.5"/><use href="#d" x="137.5"/><use href="#D" x="162.5"/></g>
<g transform="translate(75.3,1648.1)"><rect class="sh" x="1" y="1" width="237.5" height="6.5"/><rect class="st" width="237.5" height="6.5"/><use href="#D" x="37.5"/><use href="#d" x="87.5"/><use href="#d" x="112.5"/><use href="#D" x="137.5"/><use href="#d" x="187.5"/></g>
<g transform="translate(75.3,1668.9)"><rect class="sh" x="1" y="1" width="187.5" height="6.5"/><rect class="st" width="187.5" height="6.5"/><use href="#d" x="37.5"/><use href="#D" x="62.5"/><use href="#D" x="112.5"/></g>
<g transform="translate(75.3,1689.7)"><rect class="sh" x="1" y="1" width="237.5" height="6.5"/><rect class="st" width="237.5" height="6.5"/><use href="#d" x="37.5"/><use href="#D" x="62.5"/><use href="#d" x="112.5"/><use href="#d" x="137.5"/><use href="#D" x="162.5"/></g>
<g transform="translate(75.3,1710.5)"><rect class="sh" x="1" y="1" width="262.5" height="6.5"/><rect class="st" width="262.5" height="6.5"/><use href="#D" x="37.5"/><use href="#d" x="87.5"/><use href="#d" x="112.5"/><use href="#D" x="137.5"/><use href="#D" x="187.5"/></g>
<g transform="translate(75.3,1731.2)"><rect class="sh" x="1" y="1" width="237.5" height="6.5"/><rect class="st" width="237.5" height="6.5"/><use href="#d" x="37.5"/><use href="#D" x="62.5"/><use href="#D" x="112.5"/><use href="#d" x="162.5"/><use href="#d" x="187.5"/></g>
<g transform="translate(75.3,1752)"><rect class="sh" x="1" y="1" width="162.5" height="6.5"/><rect class="st" width="162.5" height="6.5"/><use href="#D" x="37.5"/><use href="#D" x="87.5"/></g>
<g transform="translate(75.3,1772.8)"><rect class="sh" x="1" y="1" width="137.5" height="6.5"/><rect class="st" width="137.5" height="6.5"/><use href="#d" x="37.5"/><use href="#d" x="62.5"/><use href="#d" x="87.5"/></g>
<g transform="translate(75.3,1793.6)"><rect class="sh" x="1" y="1" width="187.5" height="6.5"/><rect class="st" width="187.5" height="6.5"/><use href="#D" x="37.5"/><use href="#D" x="87.5"/><use href="#d" x="137.5"/></g>
<g transform="translate(75.3,1814.4)"><rect class="sh" x="1" y="1" width="262.5" height="6.5"/><rect class="st" width="262.5" height="6.5"/><use href="#D" x="37.5"/><use href="#d" x="87.5"/><use href="#D" x="112.5"/><use href="#D" x="162.5"/><use href="#d" x="212.5"/></g>
<g transform="translate(75.3,1835.1)"><rect class="sh" x="1" y="1" width="212.5" height="6.5"/><rect class="st" width="212.5" height="6.5"/><use href="#D" x="37.5"/><use href="#D" x="87.5"/><use href="#D" x="137.5"/></g>
<g transform="translate(75.3,1855.9)"><rect class="sh" x="1" y="1" width="212.5" height="6.5"/><rect class="st" width="212.5" height="6.5"/><use href="#d" x="37.5"/><use href="#D" x="62.5"/><use href="#d" x="112.5"/><use href="#D" x="137.5"/></g>
<g transform="translate(75.3,1876.7)"><rect class="sh" x="1" y="1" width="187.5" height="6.5"/><rect class="st" width="187.5" height="6.5"/><use href="#D" x="37.5"/><use href="#d" x="87.5"/><use href="#D" x="112.5"/></g>
<g transform="translate(75.3,1897.5)"><rect class="sh" x="1" y="1" width="237.5" height="6.5"/><rect class="st" width="237.5" height="6.5"/><use href="#d" x="37.5"/><use href="#D" x="62.5"/><use href="#D" x="112.5"/><use href="#D" x="162.5"/></g>
<g transform="translate(75.3,1918.3)"><rect class="sh" x="1" y="1" width="237.5" height="6.5"/><rect class="st" width="237.5" height="6.5"/><use href="#d" x="37.5"/><use href="#D" x="62.5"/><use href="#d" x="112.5"/><use href="#D" x="137.5"/><use href="#d" x="187.5"/></g>
</g>

<g id="table-extra">
<rect class="fr" x="12.3" y="1938.3" width="388.4" height="70"/>
<path class="gl" d="M12.3 1959.1H400.7M12.3 1979.9H400.7M37.3 1938.3V1998M62.7 1938.3V1998"/>
<text x="24.8" y="1952.3" class="t4">濁音</text><text x="50" y="1952.3" class="ta" font-family="Liberation Serif,serif">I</text>
<text class="t4" transform="translate(24.8,1972) scale(0.65)">半濁音</text>
<text x="24.8" y="1993.9" class="t4">長音</text>
<g transform="translate(75.3,1945.6)"><rect class="sh" x="1" y="1" width="112.5" height="6.5"/><rect class="st" width="112.5" height="6.5"/><use href="#d" x="37.5"/><use href="#d" x="62.5"/></g>
<g transform="translate(75.3,1966.4)"><rect class="sh" x="1" y="1" width="237.5" height="6.5"/><rect class="st" width="237.5" height="6.5"/><use href="#d" x="37.5"/><use href="#d" x="62.5"/><use href="#D" x="87.5"/><use href="#D" x="137.5"/><use href="#d" x="187.5"/></g>
<g transform="translate(75.3,1987.2)"><rect class="sh" x="1" y="1" width="262.5" height="6.5"/><rect class="st" width="262.5" height="6.5"/><use href="#d" x="37.5"/><use href="#D" x="62.5"/><use href="#D" x="112.5"/><use href="#d" x="162.5"/><use href="#D" x="187.5"/></g>
</g>

<g id="table-reference">
<rect x="1004" y="1908" width="296" height="68" fill="#fff" stroke="#000" stroke-width="1.5"/>
<path d="M1004 1925H1300M1004 1942H1300M1004 1958H1300M1079 1925V1976M1153 1925V1976" stroke="#000" stroke-width="1.5" fill="none"/>
<text x="1152" y="1922" class="rt">旧い書籍より参考</text>
<text x="1041" y="1940.5" class="rt">問符</text><text x="1116" y="1940.5" class="rt">？</text><text x="1226" y="1940" class="rt" textLength="90" lengthAdjust="spacing">・・ーー・・</text>
<text x="1041" y="1957" class="rt">略語</text><text x="1226" y="1956.5" class="rt" textLength="104" lengthAdjust="spacing">ーー・・ーー</text>
<text x="1041" y="1974" class="rt">発動用意</text><text x="1226" y="1973" class="rt" textLength="98" lengthAdjust="spacing">・・・・・・・ー</text>
<text x="979" y="1994" font-family="Noto Sans CJK JP,sans-serif" font-size="12.8" fill="#000">☆手旗の数字形象に相当する符号はない。交信方法は手旗とほぼ同じ</text>
</g>
</svg>
